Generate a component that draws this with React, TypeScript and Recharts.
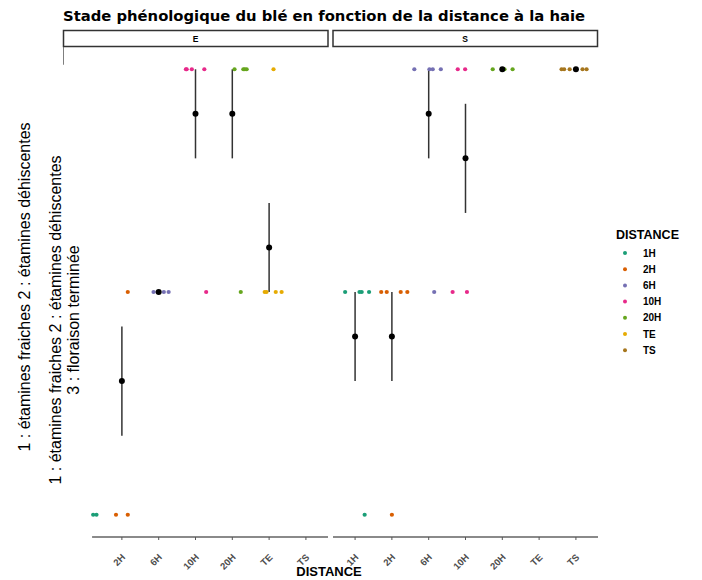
import React from 'react'
import { ScatterChart, Scatter, XAxis, YAxis, ErrorBar, ReferenceLine } from 'recharts'

// distance classes (x categories), in axis order
const DISTANCES = ['1H', '2H', '6H', '10H', '20H', 'TE', 'TS']

// ggplot Dark2, one colour per distance
const PALETTE: Record<string, string> = {
  '1H': '#1B9E77', '2H': '#D95F02', '6H': '#7570B3', '10H': '#E7298A',
  '20H': '#66A61E', TE: '#E6AB02', TS: '#A6761D',
}

// jittered observations: [distance, jitter offset, stage]
const E_POINTS: [string, number, number][] = [
  ['1H', 0.22, 1], ['1H', 0.31, 1], ['2H', -0.16, 1], ['2H', 0.16, 1],
  ['2H', 0.16, 2], ['6H', -0.14, 2], ['6H', -0.03, 2], ['6H', 0.14, 2], ['6H', 0.27, 2],
  ['10H', 0.29, 2], ['20H', 0.23, 2],
  ['TE', -0.12, 2], ['TE', -0.07, 2], ['TE', 0.18, 2], ['TE', 0.34, 2],
  ['10H', -0.26, 3], ['10H', -0.24, 3], ['10H', -0.1, 3], ['10H', 0.24, 3],
  ['20H', 0.06, 3], ['20H', 0.3, 3], ['20H', 0.34, 3], ['20H', 0.39, 3],
  ['TE', 0.12, 3],
]

const S_POINTS: [string, number, number][] = [
  ['1H', 0.26, 1], ['2H', 0.0, 1],
  ['1H', -0.27, 2], ['1H', 0.12, 2], ['1H', 0.18, 2], ['1H', 0.38, 2],
  ['2H', -0.29, 2], ['2H', -0.14, 2], ['2H', 0.24, 2], ['2H', 0.42, 2],
  ['6H', 0.15, 2], ['10H', -0.35, 2], ['10H', 0.04, 2],
  ['6H', -0.39, 3], ['6H', 0.02, 3], ['6H', 0.11, 3], ['6H', 0.33, 3],
  ['10H', -0.21, 3], ['10H', -0.01, 3],
  ['20H', -0.26, 3], ['20H', 0.0, 3], ['20H', 0.06, 3], ['20H', 0.28, 3],
  ['TS', -0.39, 3], ['TS', -0.32, 3], ['TS', -0.17, 3], ['TS', 0.0, 3], ['TS', 0.18, 3], ['TS', 0.29, 3],
]

// mean ± standard error per distance
const E_MEAN_DIST = ['2H', '6H', '10H', '20H', 'TE']
const E_MEAN = [1.6, 2.0, 2.8, 2.8, 2.2]
const E_SE = [0.245, 0, 0.2, 0.2, 0.2]

const S_MEAN_DIST = ['1H', '2H', '6H', '10H', '20H', 'TS']
const S_MEAN = [1.8, 1.8, 2.8, 2.6, 3.0, 3.0]
const S_SE = [0.2, 0.2, 0.2, 0.245, 0, 0]

const Y_LABEL_1 = '1 : étamines fraiches 2 : étamines déhiscentes'
const Y_LABEL_2 = ['1 : étamines fraiches 2 : étamines déhiscentes', '3 : floraison terminée']

const FONT = '"Liberation Sans", Arial, sans-serif'
const PLOT_H = 490
const AXIS_H = 40
const LEGEND_Y0 = 253
const LEGEND_STEP = 16.2

const xOf = (d: string) => DISTANCES.indexOf(d) + 1

function RotTick({ x, y, payload }: any) {
  return (
    <g transform={`translate(${x + 4},${y + 18})`}>
      <text x={0} y={0} textAnchor="end" transform="rotate(-45)"
        fontSize={9.5} fontWeight="bold" fill="#4d4d4d" fontFamily={FONT}>
        {DISTANCES[payload.value - 1]}
      </text>
    </g>
  )
}

const dot = (color: string, r: number) => (p: any) =>
  <circle cx={p.cx} cy={p.cy} r={r} fill={color} />

interface PanelProps {
  left: number
  width: number
  points: [string, number, number][]
  meanDist: string[]
  mean: number[]
  se: number[]
  ticks: number[]
  partialAxis?: boolean
}

function Panel({ left, width, points, meanDist, mean, se, ticks, partialAxis }: PanelProps) {
  const means = meanDist.map((d, i) => ({ x: xOf(d), y: mean[i], err: se[i] }))
  return (
    <div style={{ position: 'absolute', left, top: 47 }}>
      <ScatterChart width={width} height={PLOT_H + AXIS_H} margin={{ top: 0, right: 0, bottom: 0, left: 0 }}>
        <XAxis type="number" dataKey="x" domain={[0.4, 7.6]} ticks={ticks} interval={0}
          allowDataOverflow height={AXIS_H} tick={<RotTick />} tickSize={3} tickMargin={0}
          tickLine={{ stroke: '#555' }}
          axisLine={partialAxis ? false : { stroke: '#8a8a8a', strokeWidth: 2 }} />
        <YAxis type="number" dataKey="y" domain={[0.9, 3.1]} hide allowDataOverflow />
        {partialAxis && (
          <ReferenceLine segment={[{ x: 1.19, y: 0.9 }, { x: 7.6, y: 0.9 }]}
            stroke="#8a8a8a" strokeWidth={2} ifOverflow="visible" />
        )}
        {partialAxis && (
          <ReferenceLine segment={[{ x: 0.4, y: 3.1 }, { x: 0.4, y: 3.02 }]}
            stroke="#555" strokeWidth={1.5} ifOverflow="visible" />
        )}
        {DISTANCES.map(d => (
          <Scatter key={d} isAnimationActive={false}
            data={points.filter(p => p[0] === d).map(p => ({ x: xOf(d) + p[1], y: p[2] }))}
            shape={dot(PALETTE[d], 2.1)} />
        ))}
        <Scatter isAnimationActive={false} data={means} shape={dot('#000', 3)}>
          <ErrorBar dataKey="err" direction="y" width={0} stroke="#333" strokeWidth={1.5} />
        </Scatter>
      </ScatterChart>
    </div>
  )
}

export default function App() {
  return (
    <div style={{ position: 'absolute', left: 0, top: 0, width: 702, height: 580, background: '#fff', fontFamily: FONT }}>
      <svg width={702} height={580} style={{ position: 'absolute', left: 0, top: 0 }} fontFamily={FONT}>
        <text x={63} y={21} fontSize={14} fontWeight="bold" fill="#000" textLength={522}
          lengthAdjust="spacingAndGlyphs" fontFamily='"DejaVu Sans", Verdana, sans-serif'>
          Stade phénologique du blé en fonction de la distance à la haie
        </text>
        <rect x={63.5} y={30.5} width={264.5} height={16} fill="#fff" stroke="#333" strokeWidth={1.5} />
        <text x={195.7} y={41.5} fontSize={8.5} fontWeight="bold" textAnchor="middle">E</text>
        <rect x={333} y={30.5} width={264.5} height={16} fill="#fff" stroke="#333" strokeWidth={1.5} />
        <text x={465.2} y={41.5} fontSize={8.5} fontWeight="bold" textAnchor="middle">S</text>

        <text transform="translate(30,287) rotate(-90)" textAnchor="middle" fontSize={16}>{Y_LABEL_1}</text>
        {Y_LABEL_2.map((t, i) => (
          <text key={i} transform={`translate(${61 + i * 18},320) rotate(-90)`} textAnchor="middle" fontSize={16}>{t}</text>
        ))}

        <text x={329} y={575.5} fontSize={13} fontWeight="bold" textAnchor="middle">DISTANCE</text>

        <text x={616} y={239} fontSize={12.5} fontWeight="bold">DISTANCE</text>
        {DISTANCES.map((d, i) => (
          <g key={d}>
            <circle cx={625} cy={LEGEND_Y0 + i * LEGEND_STEP} r={2} fill={PALETTE[d]} />
            <text x={643} y={LEGEND_Y0 + i * LEGEND_STEP + 3.6} fontSize={10} fontWeight="bold">{d}</text>
          </g>
        ))}
      </svg>
      <Panel left={63} width={265} points={E_POINTS} meanDist={E_MEAN_DIST} mean={E_MEAN} se={E_SE}
        ticks={[2, 3, 4, 5, 6, 7]} partialAxis />
      <Panel left={333} width={265} points={S_POINTS} meanDist={S_MEAN_DIST} mean={S_MEAN} se={S_SE}
        ticks={[1, 2, 3, 4, 5, 6, 7]} />
    </div>
  )
}
